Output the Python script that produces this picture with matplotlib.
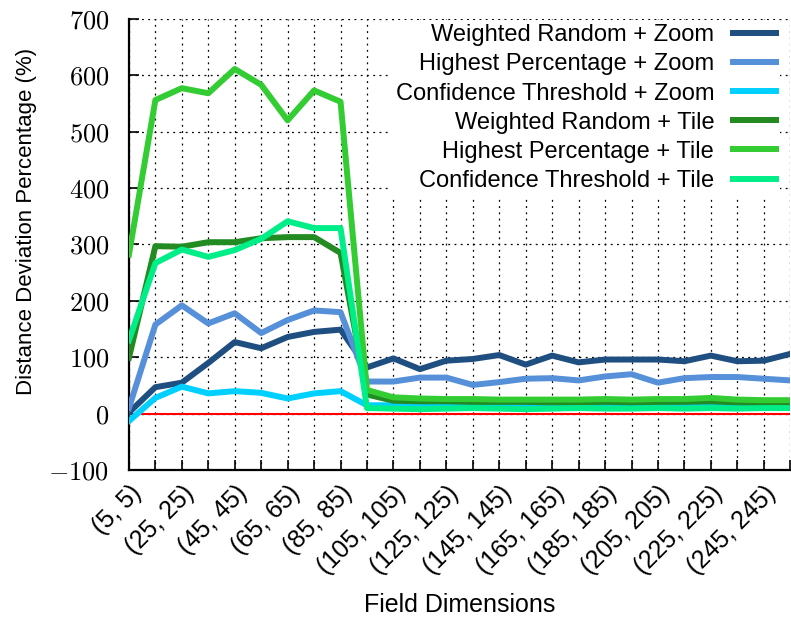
import numpy as np
import matplotlib
matplotlib.use('Agg')
import matplotlib.pyplot as plt

plt.rcParams['font.family'] = ['Liberation Sans', 'DejaVu Sans']
plt.rcParams['mathtext.fontset'] = 'cm'

sizes = list(range(5, 265, 10))
x_labels = [f'({s}, {s})' for s in sizes]

wr_zoom = [2, 47, 55, 90, 127, 116, 136, 145, 149, 82, 98, 79, 94, 97, 104, 87, 103, 91, 96, 96, 96, 93, 103, 93, 94, 106]
hp_zoom = [10, 158, 192, 160, 178, 143, 166, 183, 180, 57, 57, 64, 64, 51, 56, 62, 63, 59, 66, 70, 55, 63, 65, 65, 62, 59]
ct_zoom = [-13, 28, 48, 36, 40, 37, 27, 36, 40, 15, 15, 14, 14, 14, 15, 14, 14, 15, 14, 14, 15, 14, 14, 13, 14, 14]
wr_tile = [99, 297, 296, 304, 304, 311, 313, 313, 285, 34, 23, 22, 22, 21, 21, 21, 20, 20, 21, 20, 21, 21, 22, 20, 19, 19]
hp_tile = [282, 556, 577, 568, 611, 583, 520, 573, 553, 42, 29, 27, 26, 26, 25, 25, 25, 25, 26, 25, 26, 26, 28, 25, 24, 24]
ct_tile = [130, 267, 291, 278, 290, 310, 341, 329, 329, 10, 9, 8, 9, 10, 9, 8, 9, 10, 9, 9, 10, 9, 10, 9, 10, 10]

series = [
    ('Weighted Random + Zoom', wr_zoom, '#1f4e80'),
    ('Highest Percentage + Zoom', hp_zoom, '#5590d8'),
    ('Confidence Threshold + Zoom', ct_zoom, '#00d0ff'),
    ('Weighted Random + Tile', wr_tile, '#228b22'),
    ('Highest Percentage + Tile', hp_tile, '#33cc33'),
    ('Confidence Threshold + Tile', ct_tile, '#00ee88'),
]

fig = plt.figure(figsize=(7.91, 6.26), dpi=100)
ax = fig.add_axes([0.163, 0.249, 0.836, 0.721])

x = np.arange(len(sizes))
ax.plot([0.5, len(sizes)], [0, 0], color='red', lw=1.5, zorder=2)
for name, vals, col in series:
    ax.plot(x, vals, color=col, lw=4.3, label=name, zorder=3)

ax.set_xlim(0, 24.7)
ax.set_ylim(-100, 700)
ax.set_xticks(x)
ax.set_xticklabels([l if i % 2 == 0 else '' for i, l in enumerate(x_labels)],
                   rotation=45, ha='right', rotation_mode='anchor', fontsize=18)
ax.set_yticks(range(-100, 701, 100))
ax.set_yticklabels([f'${v}$' for v in range(-100, 701, 100)], fontsize=19)
ax.tick_params(direction='in', length=7, width=1.2, pad=8)
ax.tick_params(axis='y', pad=14)

ax.grid(True, color='black', linestyle=(0, (1.5, 3.5)), lw=0.9)
ax.set_axisbelow(True)
for s in ['top', 'right']:
    ax.spines[s].set_visible(False)
for s in ['left', 'bottom']:
    ax.spines[s].set_linewidth(1.6)

ax.set_xlabel('Field Dimensions', fontsize=18, labelpad=10)
ax.set_ylabel('Distance Deviation Percentage (%)', fontsize=16)
ax.yaxis.set_label_coords(-0.139, 0.55)

leg = ax.legend(loc='upper right', markerfirst=False, frameon=True, fontsize=17,
                handlelength=1.8, handletextpad=0.8, labelspacing=0.3,
                borderpad=0.2, borderaxespad=0, bbox_to_anchor=(0.985, 0.998))
leg.get_frame().set_edgecolor('none')
leg.get_frame().set_facecolor('white')
leg.get_frame().set_alpha(1)
leg.set_zorder(5)

fig.savefig('out.png', dpi=100)
